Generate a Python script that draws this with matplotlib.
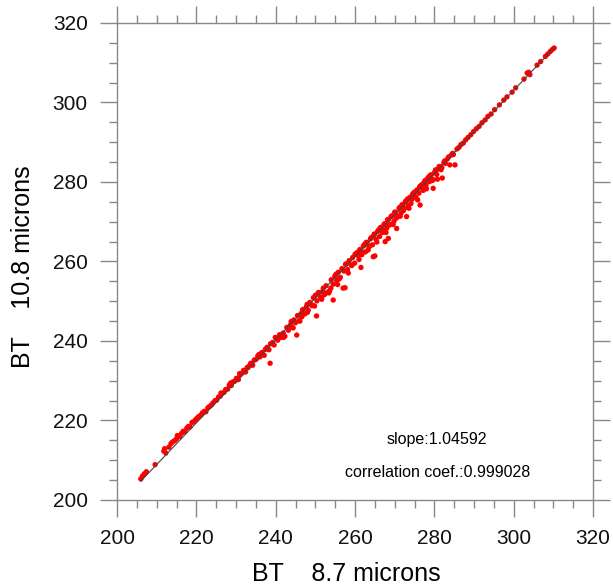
import matplotlib
matplotlib.use('Agg')
import matplotlib.pyplot as plt
from matplotlib.ticker import MultipleLocator
import numpy as np

# brightness temperatures (K)
bt_87 = [
    206.0, 206.4, 206.9, 207.4, 209.6, 211.8, 212.0, 212.3, 213.1, 213.6,
    214.0, 214.5, 215.0, 215.2, 215.8, 216.3, 216.7, 217.1, 217.6, 218.0,
    218.4, 218.9, 219.3, 219.8, 220.2, 220.6, 221.1, 221.5, 222.0, 222.4,
    222.9, 223.3, 223.8, 224.2, 224.7, 225.1, 225.6, 226.0, 226.5, 227.0,
    227.4, 227.9, 228.3, 228.8, 229.2, 229.7, 230.1, 230.6, 231.0, 231.5,
    231.9, 232.4, 232.8, 233.3, 233.7, 234.2, 234.6, 235.1, 235.5, 236.0,
    236.5, 236.9, 237.4, 237.8, 238.3, 238.7, 239.2, 239.6, 240.1, 240.5,
    241.0, 241.4, 241.9, 242.3, 242.8, 243.2, 243.7, 244.1, 244.6, 245.0,
    245.5, 245.9, 246.4, 246.8, 247.3, 247.7, 248.2, 248.6, 249.1, 249.5,
    250.0, 250.4, 250.9, 251.3, 251.8, 252.2, 252.7, 253.1, 253.6, 254.0,
    254.5, 254.9, 255.4, 255.8, 256.3, 256.7, 257.2, 257.6, 258.1, 258.5,
    259.0, 259.4, 259.9, 260.3, 260.8, 261.2, 261.7, 262.1, 262.6, 263.0,
    263.5, 263.9, 264.4, 264.8, 265.3, 265.7, 266.2, 266.6, 267.1, 267.5,
    268.0, 268.4, 268.9, 269.3, 269.8, 270.2, 270.7, 271.1, 271.6, 272.0,
    272.5, 272.9, 273.4, 273.8, 274.3, 274.7, 275.2, 275.6, 276.1, 276.5,
    277.0, 277.4, 277.9, 278.3, 278.8, 279.2, 279.7, 280.1, 280.6, 281.0,
    281.5, 281.9, 282.4, 282.8, 283.3, 283.9, 284.3, 284.8, 285.2, 285.7,
    286.2, 286.7, 287.3, 287.9, 288.5, 289.2, 289.9, 290.6, 291.3, 292.0,
    292.8, 293.5, 294.3, 295.2, 296.4, 297.5, 298.3, 299.6, 300.5, 302.6,
    303.4, 303.8, 304.1, 305.9, 306.8, 308.0, 308.6, 309.2, 309.7, 310.2,
    238.6, 245.3, 250.3, 254.5, 257.0, 257.5, 261.5, 264.6, 265.0, 267.6,
    268.4, 270.5, 273.0, 276.4, 279.7, 282.0,
    260.6, 262.8, 264.1, 266.4, 268.2, 270.0, 271.8, 273.2, 274.9, 276.3,
    277.7, 279.0, 280.4, 281.2, 282.6,
    261.0, 263.3, 265.5, 267.8, 269.6, 271.4, 273.6, 275.8, 278.0, 280.8,
    242.0, 244.4, 246.1, 248.0, 249.8, 251.6, 253.4, 255.6, 258.3,
    226.2, 228.6, 230.9, 233.0, 235.8, 237.1, 239.9, 241.7, 243.9, 246.6,
    247.9, 249.3, 250.7, 252.0, 252.5, 253.9, 255.2, 256.0, 257.8, 259.2,
    260.0, 261.9, 262.4, 263.7, 264.9, 266.0, 266.9, 267.3, 268.7, 269.1,
    270.4, 271.3, 272.2, 272.7, 274.1, 274.5, 275.4, 276.8, 277.2, 278.6,
    279.5, 280.3, 281.7, 283.6, 284.6,
]
bt_108 = [
    205.3, 206.0, 206.6, 207.1, 208.9, 212.3, 212.9, 211.8, 213.3, 214.2,
    214.6, 214.9, 215.4, 216.2, 216.0, 216.8, 217.3, 217.2, 218.1, 218.5,
    218.4, 219.5, 219.7, 220.2, 220.6, 221.0, 221.3, 221.9, 222.3, 222.2,
    223.2, 223.5, 223.9, 224.4, 225.0, 225.1, 225.9, 226.1, 226.8, 227.1,
    227.8, 227.9, 228.9, 228.8, 229.7, 229.9, 230.6, 230.3, 231.4, 231.9,
    232.6, 232.2, 233.3, 233.7, 234.4, 233.9, 235.2, 235.4, 236.3, 236.0,
    237.1, 236.5, 237.9, 238.4, 237.8, 239.3, 239.6, 239.0, 240.7, 240.2,
    241.6, 240.9, 242.0, 241.2, 243.4, 242.7, 244.0, 243.5, 245.3, 244.6,
    246.4, 245.1, 246.9, 247.9, 246.8, 248.5, 247.7, 249.7, 248.9, 250.9,
    251.5, 250.1, 252.2, 251.0, 252.4, 251.6, 253.9, 252.3, 252.6, 255.4,
    254.3, 256.3, 255.2, 257.3, 256.0, 258.2, 257.6, 259.3, 258.0, 260.2,
    259.1, 261.0, 259.6, 262.0, 261.5, 263.0, 261.7, 263.9, 262.4, 264.8,
    263.7, 265.7, 264.2, 266.8, 265.6, 267.6, 266.3, 268.6, 267.9, 269.5,
    268.4, 270.6, 269.3, 271.5, 270.1, 272.4, 271.3, 273.4, 272.2, 274.3,
    273.4, 275.2, 274.0, 276.1, 275.6, 277.0, 276.3, 278.0, 277.2, 279.0,
    278.3, 279.9, 279.2, 280.9, 280.1, 281.8, 280.6, 282.5, 281.9, 283.3,
    283.9, 283.6, 284.9, 284.7, 285.8, 284.3, 286.8, 286.9, 284.3, 288.3,
    288.7, 289.4, 289.8, 290.6, 291.2, 291.9, 292.7, 293.4, 294.0, 294.9,
    295.6, 296.5, 297.1, 298.2, 299.4, 300.6, 301.4, 302.6, 303.7, 305.9,
    307.4, 307.6, 307.0, 309.4, 310.3, 311.6, 312.2, 312.8, 313.3, 313.7,
    234.4, 241.5, 246.3, 250.3, 253.3, 253.4, 258.5, 261.2, 261.4, 265.0,
    265.8, 268.3, 271.3, 274.2, 278.4, 281.0,
    262.3, 264.8, 266.0, 268.5, 270.5, 272.4, 274.2, 275.7, 277.4, 278.8,
    280.4, 281.7, 283.0, 283.9, 285.3,
    260.5, 262.9, 264.9, 267.3, 269.3, 271.4, 273.4, 275.5, 278.3, 280.7,
    240.9, 243.3, 245.0, 247.2, 248.8, 250.5, 252.1, 254.2, 257.1,
    226.9, 229.4, 231.8, 233.3, 236.6, 236.4, 240.9, 241.3, 244.9, 246.1,
    249.2, 249.0, 252.1, 253.3, 251.9, 253.3, 256.8, 255.6, 259.4, 259.0,
    261.8, 262.4, 264.3, 263.9, 266.9, 268.0, 267.3, 269.3, 269.2, 271.3,
    270.9, 273.6, 272.8, 275.1, 274.6, 276.9, 276.0, 279.3, 277.9, 281.3,
    280.4, 283.0, 283.1, 286.3, 287.2,
]

slope = 1.04592
intercept = -10.71
corr = 0.999028

plt.rcParams['font.family'] = ['Liberation Sans', 'DejaVu Sans']

fig = plt.figure(figsize=(6.13, 5.85), dpi=100)
ax = fig.add_axes([0.1909, 0.1453, 0.7765, 0.8154])

x = np.array(bt_87)
y = np.array(bt_108)
ax.scatter(x, y, s=15, color='red', edgecolors='none', zorder=2)

# regression line
xl = np.array([x.min(), x.max()])
ax.plot(xl, slope * xl + intercept, color='#444444', lw=0.8, zorder=3)

ax.set_xlim(200, 320)
ax.set_ylim(200, 320)
ax.xaxis.set_major_locator(MultipleLocator(20))
ax.yaxis.set_major_locator(MultipleLocator(20))
ax.xaxis.set_minor_locator(MultipleLocator(5))
ax.yaxis.set_minor_locator(MultipleLocator(5))

for s in ax.spines.values():
    s.set_color('#888888')
    s.set_linewidth(1.0)
ax.tick_params(which='both', direction='out', top=True, right=True,
               color='#888888', width=1.0)
ax.tick_params(which='major', length=12, labelsize=15, pad=9,
               labelcolor='#111111')
ax.tick_params(which='minor', length=6)
ax.tick_params(labeltop=False, labelright=False)

ax.set_xlabel('BT    8.7 microns', fontsize=18, va='top')
ax.set_ylabel('BT    10.8 microns', fontsize=18, va='bottom')
ax.xaxis.set_label_coords(0.481, -0.130)
ax.yaxis.set_label_coords(-0.172, 0.49)

ax.text(280.7, 215.1, 'slope:' + str(slope), fontsize=11.5, ha='center', va='center')
ax.text(280.7, 207.0, 'correlation coef.:' + str(corr), fontsize=11.5,
        ha='center', va='center')

fig.savefig('out.png', dpi=100)
